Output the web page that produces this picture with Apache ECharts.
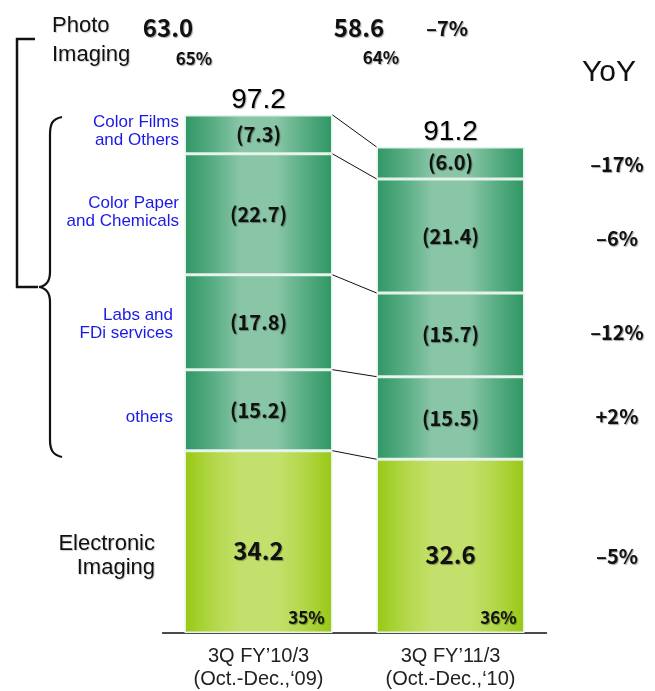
<!DOCTYPE html>
<html>
<head>
<meta charset="utf-8">
<script src="https://cdn.jsdelivr.net/npm/echarts@6/dist/echarts.min.js"></script>
<style>html,body{margin:0;padding:0;background:#fff;}#c{width:655px;height:691px;}</style>
</head>
<body>
<div id="c"></div>
<script>
const categories = ['3Q FY\u201910/3\n(Oct.-Dec.,\u201809)', '3Q FY\u201911/3\n(Oct.-Dec.,\u201810)'];
const electronicImaging = [34.2, 32.6];
const others = [15.2, 15.5];
const labsFDi = [17.8, 15.7];
const colorPaper = [22.7, 21.4];
const colorFilms = [7.3, 6.0];
const totals = [97.2, 91.2];
const eiShare = ['35%', '36%'];
const photoTotals = ['63.0', '58.6'];
const photoShare = ['65%', '64%'];
const photoYoY = '\u20137%';
const segmentYoY = ['\u201317%', '\u20136%', '\u201312%', '+2%', '\u20135%']; // films, paper, labs, others, EI
const segmentNames = ['Color Films\nand Others', 'Color Paper\nand Chemicals', 'Labs and\nFDi services', 'others'];

const NUMFONT = 'Noto Sans CJK JP';
const shadow = {textShadowColor: 'rgba(0,0,0,0.35)', textShadowOffsetX: 1, textShadowOffsetY: 1, textShadowBlur: 1};

function grad(c0, c1, c2) {
  return new echarts.graphic.LinearGradient(0, 0, 1, 0, [
    {offset: 0, color: c0}, {offset: 0.2, color: c1}, {offset: 0.38, color: c2},
    {offset: 0.62, color: c2}, {offset: 0.8, color: c1}, {offset: 1, color: c0}
  ]);
}
const greenGrad = grad('#2f9664', '#5aae85', '#89c6a7');
const yellowGrad = grad('#98c814', '#b3d84a', '#c4e06c');

const BARW = 148;
function segSeries(name, data, color, labelFmt, extra) {
  return Object.assign({
    name: name, type: 'bar', stack: 'total', data: data, barWidth: BARW,
    itemStyle: {color: color, borderColor: '#e4f2ea', borderWidth: 1.5},
    label: Object.assign({show: true, position: 'inside', color: '#111', fontFamily: NUMFONT,
      fontWeight: 'bold', fontSize: 20, formatter: labelFmt}, shadow),
    silent: true
  }, extra || {});
}

// cumulative boundaries for connector lines
const stackOrder = [electronicImaging, others, labsFDi, colorPaper, colorFilms];
const boundaries = [];
let c0 = 0, c1 = 0;
stackOrder.forEach(arr => { c0 += arr[0]; c1 += arr[1]; boundaries.push([0, +c0.toFixed(1), +c1.toFixed(1)]); });

const chart = echarts.init(document.getElementById('c'), null, {renderer: 'canvas'});

const graphics = [];
function txt(x, y, text, opts) {
  graphics.push({type: 'text', x: x, y: y, silent: true,
    style: Object.assign({text: text, textAlign: 'center', textVerticalAlign: 'middle', fill: '#111'}, opts)});
}
// Photo Imaging heading
txt(52, 40, 'Photo\nImaging', {textAlign: 'left', font: '22px "Liberation Sans"', lineHeight: 29, fill: '#111', ...shadow, textShadowColor: 'rgba(0,0,0,0.2)'});
txt(168, 28, photoTotals[0], {font: 'bold 24px "' + NUMFONT + '"', ...shadow});
txt(194, 59, photoShare[0], {font: 'bold 17px "' + NUMFONT + '"', ...shadow});
txt(359, 28, photoTotals[1], {font: 'bold 24px "' + NUMFONT + '"', ...shadow});
txt(381, 58, photoShare[1], {font: 'bold 17px "' + NUMFONT + '"', ...shadow});
txt(447, 28, photoYoY, {font: 'bold 20px "' + NUMFONT + '"', ...shadow});
txt(609, 73, 'YoY', {font: '30px "Liberation Sans"', fill: '#111'});
// YoY column
const yoyY = [164, 238, 332, 416, 556];
segmentYoY.forEach((t, i) => txt(617, yoyY[i], t, {font: 'bold 20px "' + NUMFONT + '"', ...shadow}));
// segment names
const nameX = [179, 179, 173, 173];
const nameY = [131, 212, 324, 417];
segmentNames.forEach((t, i) => txt(nameX[i], nameY[i], t, {textAlign: 'right', font: '17px "Liberation Sans"', lineHeight: 18, fill: '#1a1ae6'}));
txt(155, 556, 'Electronic\nImaging', {textAlign: 'right', font: '22px "Liberation Sans"', lineHeight: 24, fill: '#111', ...shadow, textShadowColor: 'rgba(0,0,0,0.2)'});
// totals above bars (text annotations)
// brackets
const bStyle = {stroke: '#111', lineWidth: 2.5, fill: null};
graphics.push({type: 'polyline', silent: true, shape: {points: [[35, 39], [17, 39], [17, 287], [38, 287]]}, style: bStyle});
const braceStyle = {stroke: '#111', lineWidth: 2.2, fill: null};
function bez(x1, y1, a, b, c, d, x2, y2) {
  graphics.push({type: 'bezierCurve', silent: true, shape: {x1: x1, y1: y1, cpx1: a, cpy1: b, cpx2: c, cpy2: d, x2: x2, y2: y2}, style: braceStyle});
}
function ln(x1, y1, x2, y2) {
  graphics.push({type: 'line', silent: true, shape: {x1: x1, y1: y1, x2: x2, y2: y2}, style: braceStyle});
}
bez(62, 117, 52, 119, 50, 124, 50, 135);
ln(50, 135, 50, 272);
bez(50, 272, 50, 281, 46, 286, 39, 287);
bez(39, 287, 46, 288, 50, 293, 50, 302);
ln(50, 302, 50, 440);
bez(50, 440, 50, 450, 53, 455, 62, 457);

chart.setOption({
  animation: false,
  backgroundColor: '#fff',
  grid: {left: 162.5, right: 108.5, top: 100, bottom: 57},
  xAxis: {
    type: 'category', data: categories,
    axisLine: {lineStyle: {color: '#111', width: 1.5}},
    axisTick: {show: false},
    axisLabel: {color: '#222', fontSize: 20, lineHeight: 23, margin: 12, fontFamily: 'Liberation Sans'}
  },
  yAxis: {type: 'value', min: 0, max: 100, show: false, splitLine: {show: false}},
  series: [
    segSeries('Electronic Imaging', electronicImaging, yellowGrad, p => p.value.toFixed(1),
      {label: Object.assign({show: true, position: 'inside', offset: [0, 9], color: '#111', fontFamily: NUMFONT,
        fontWeight: 'bold', fontSize: 24, formatter: p => p.value.toFixed(1)}, shadow)}),
    segSeries('others', others, greenGrad, p => '(' + p.value.toFixed(1) + ')'),
    segSeries('Labs and FDi services', labsFDi, greenGrad, p => '(' + p.value.toFixed(1) + ')'),
    segSeries('Color Paper and Chemicals', colorPaper, greenGrad, p => '(' + p.value.toFixed(1) + ')'),
    segSeries('Color Films and Others', colorFilms, greenGrad, p => '(' + p.value.toFixed(1) + ')'),
    {
      name: 'connectors', type: 'custom', data: boundaries, encode: {x: 0, y: 1}, silent: true, z: 5,
      renderItem: function (params, api) {
        const p0 = api.coord([0, api.value(1)]);
        const p1 = api.coord([1, api.value(2)]);
        return {type: 'line', shape: {x1: p0[0] + BARW / 2, y1: p0[1], x2: p1[0] - BARW / 2, y2: p1[1]},
          style: {stroke: '#111', lineWidth: 1}};
      }
    },
    {
      name: 'totals', type: 'scatter', symbolSize: 1, silent: true, z: 10,
      itemStyle: {color: '#000', opacity: 0},
      data: totals.map((v, i) => [i, v]),
      label: {show: true, position: 'top', distance: 0, color: '#000', opacity: 1, fontFamily: 'Liberation Sans',
        fontWeight: 500, fontSize: 28, formatter: p => p.value[1].toFixed(1),
        textShadowColor: 'rgba(0,0,0,0.3)', textShadowOffsetX: 1, textShadowOffsetY: 1, textShadowBlur: 1}
    },
    {
      name: 'eiShare', type: 'scatter', symbolSize: 1, silent: true, z: 10,
      itemStyle: {color: '#000', opacity: 0},
      data: eiShare.map((v, i) => [i, 0]),
      label: Object.assign({show: true, position: 'inside', offset: [48, -15], color: '#111', opacity: 1, fontFamily: NUMFONT,
        fontWeight: 'bold', fontSize: 17, formatter: p => eiShare[p.dataIndex]}, shadow)
    }
  ],
  graphic: graphics
});
</script>
</body>
</html>
